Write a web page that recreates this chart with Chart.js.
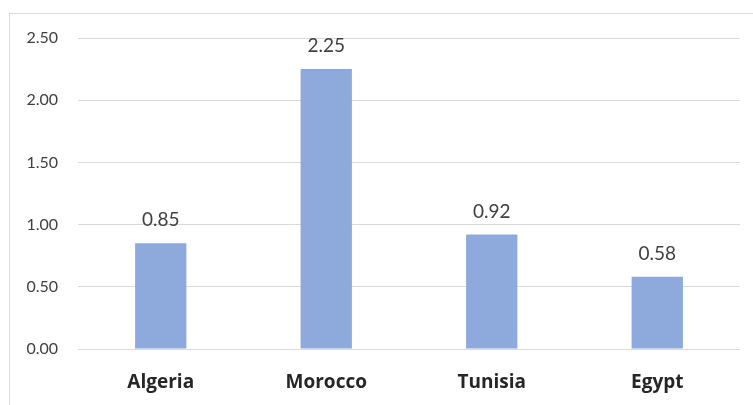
<!DOCTYPE html>
<html>
<head>
<meta charset="utf-8">
<script src="https://cdn.jsdelivr.net/npm/chart.js@4.4.1/dist/chart.umd.min.js"></script>
<style>
  html, body { margin: 0; padding: 0; background: #fff; }
  #wrap { position: relative; width: 753px; height: 405px; }
</style>
</head>
<body>
<div id="wrap"><canvas id="c" width="753" height="405"></canvas></div>
<script>
// Country values
const categories = ['Algeria', 'Morocco', 'Tunisia', 'Egypt'];
const values = [0.85, 2.25, 0.92, 0.58];
const yTicks = [0, 0.5, 1.0, 1.5, 2.0, 2.5];

const FONT = 'Lato, "Open Sans", sans-serif';

// Light frame around the whole chart
const framePlugin = {
  id: 'frame',
  beforeDraw(chart) {
    const ctx = chart.ctx;
    ctx.save();
    ctx.strokeStyle = '#d9d9d9';
    ctx.lineWidth = 1;
    ctx.strokeRect(9.5, 13.5, 760, 420);
    ctx.restore();
  }
};

// Value labels above each bar
const valueLabels = {
  id: 'valueLabels',
  afterDatasetsDraw(chart) {
    const ctx = chart.ctx;
    const meta = chart.getDatasetMeta(0);
    ctx.save();
    ctx.font = '19px ' + FONT;
    ctx.fillStyle = '#404040';
    ctx.textAlign = 'center';
    ctx.textBaseline = 'alphabetic';
    meta.data.forEach((bar, i) => {
      ctx.fillText(values[i].toFixed(2), bar.x, bar.y - 17);
    });
    ctx.restore();
  }
};

new Chart(document.getElementById('c'), {
  type: 'bar',
  data: {
    labels: categories,
    datasets: [{
      data: values,
      backgroundColor: '#8eaadc',
      borderWidth: 0,
      barPercentage: 0.31,
      categoryPercentage: 1.0
    }]
  },
  options: {
    responsive: false,
    animation: false,
    layout: { padding: { top: 38, right: 13, bottom: 0, left: 0 } },
    plugins: { legend: { display: false }, tooltip: { enabled: false } },
    scales: {
      x: {
        grid: { display: false, drawTicks: false },
        border: { display: false },
        ticks: {
          padding: 22,
          color: '#262626',
          font: { family: '"Open Sans", Lato, sans-serif', size: 19, weight: 'bold' }
        },
        afterFit(scale) { scale.height = 56; }
      },
      y: {
        min: 0,
        max: 2.5,
        afterBuildTicks(scale) { scale.ticks = yTicks.map(v => ({ value: v })); },
        grid: { color: '#d9d9d9', lineWidth: 1, drawTicks: false },
        border: { display: false },
        ticks: {
          padding: 20,
          color: '#404040',
          font: { family: FONT, size: 16 },
          callback: v => Number(v).toFixed(2)
        },
        afterFit(scale) { scale.width = 78; }
      }
    }
  },
  plugins: [framePlugin, valueLabels]
});
</script>
</body>
</html>
